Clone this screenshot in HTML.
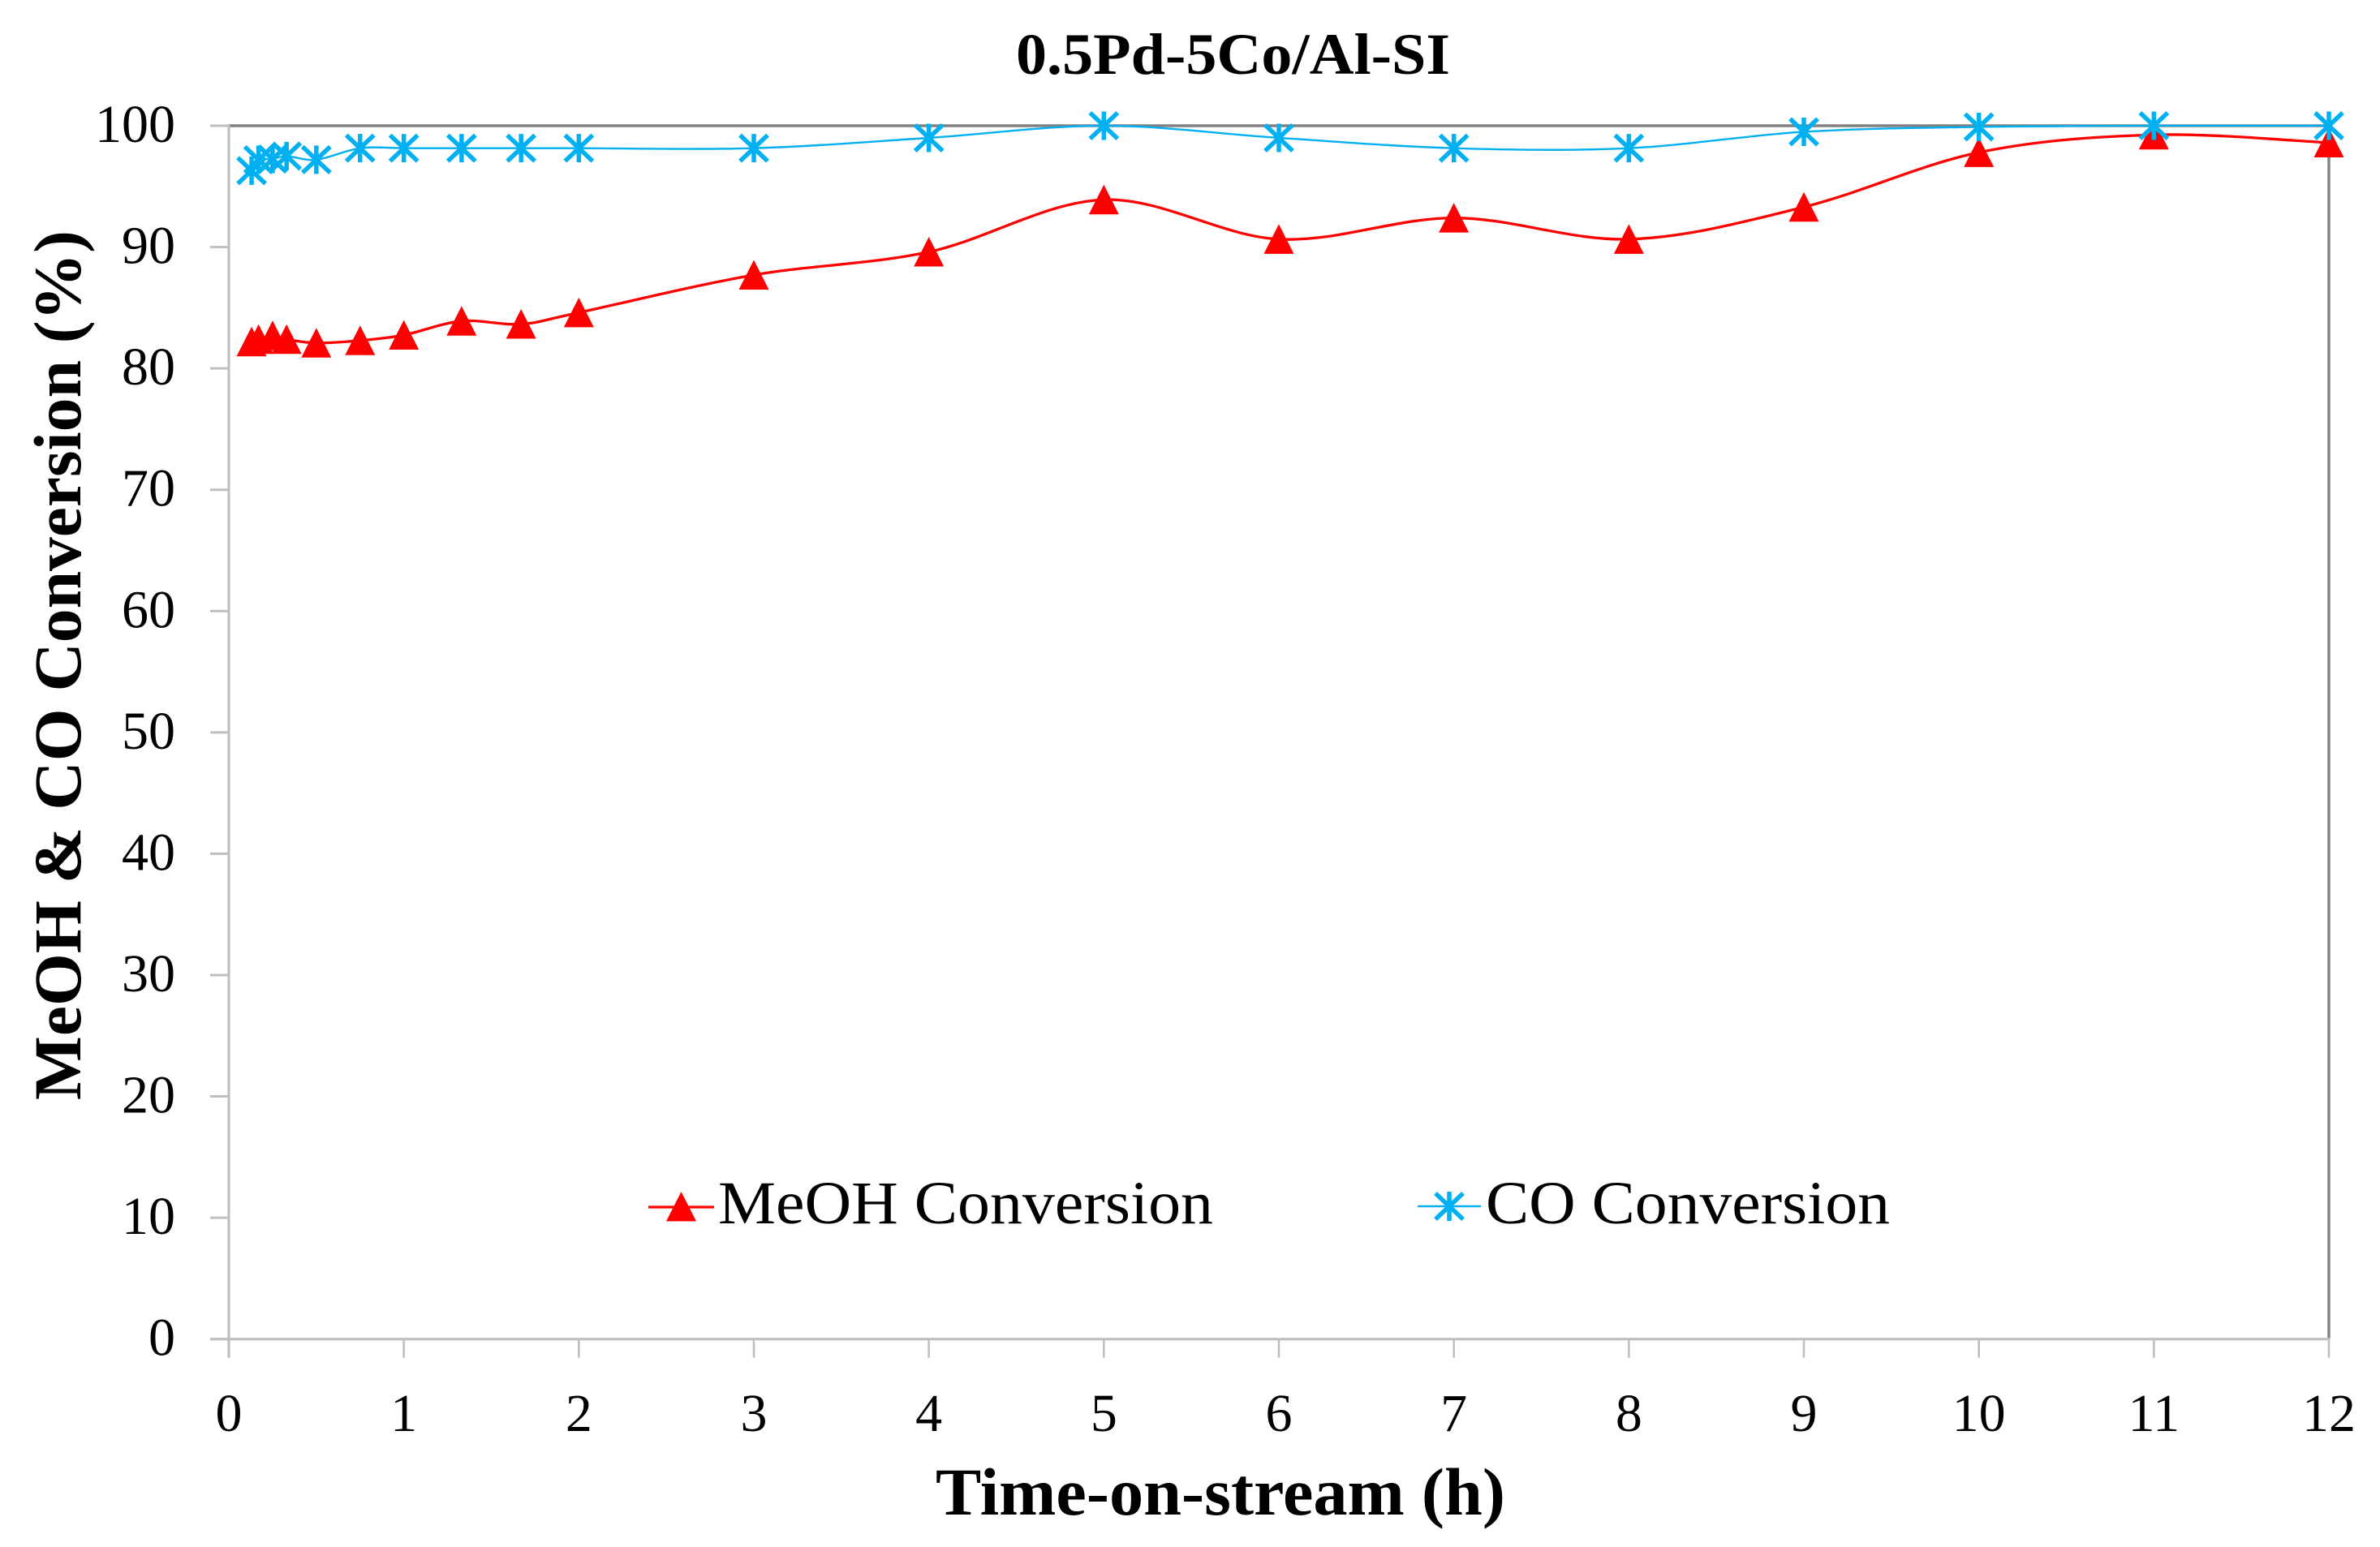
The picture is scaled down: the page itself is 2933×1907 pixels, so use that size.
<!DOCTYPE html>
<html lang="en">
<head>
<meta charset="utf-8">
<title>0.5Pd-5Co/Al-SI</title>
<style>
html,body{margin:0;padding:0;background:#fff;width:2933px;height:1907px;overflow:hidden}
svg{display:block}
text{font-family:"Liberation Serif",serif;fill:#000}
</style>
</head>
<body>
<svg id="chart" width="2933" height="1907" viewBox="0 0 2933 1907" xmlns="http://www.w3.org/2000/svg">
  <rect width="2933" height="1907" fill="#fff"/>
  <text x="1252" y="91" font-size="72" font-weight="bold" textLength="535" lengthAdjust="spacingAndGlyphs">0.5Pd-5Co/Al-SI</text>
  <text transform="translate(99,1356) rotate(-90)" font-size="83" font-weight="bold" textLength="1072" lengthAdjust="spacingAndGlyphs">MeOH &amp; CO Conversion (%)</text>
  <text x="1153" y="1867" font-size="83" font-weight="bold" textLength="702" lengthAdjust="spacingAndGlyphs">Time-on-stream (h)</text>
  <g id="axes"></g>
  <g id="series"></g>
  <g>
    <g>
      <line x1="799" y1="1488" x2="880" y2="1488" stroke="#ff0000" stroke-width="3.3"/>
      <polygon points="839.5,1469 858,1505.5 821,1505.5" fill="#ff0000"/>
      <text x="885" y="1508" font-size="75" textLength="610" lengthAdjust="spacingAndGlyphs">MeOH Conversion</text>
    </g>
    <g>
      <line x1="1747" y1="1487" x2="1825" y2="1487" stroke="#00b0f0" stroke-width="2.4"/>
      <path d="M1786 1469V1505M1769 1471L1803 1503M1803 1471L1769 1503" stroke="#00b0f0" stroke-width="5.5" fill="none"/>
      <text x="1831" y="1508" font-size="75" textLength="498" lengthAdjust="spacingAndGlyphs">CO Conversion</text>
    </g>
  </g>
</svg>
<script>
const timeHours = [0.13, 0.17, 0.25, 0.33, 0.5, 0.75, 1, 1.33, 1.67, 2, 3, 4, 5, 6, 7, 8, 9, 10, 11, 12];
const meohConversion = [82.2, 82.4, 82.7, 82.4, 82.1, 82.3, 82.75, 83.9, 83.65, 84.6, 87.7, 89.6, 93.9, 90.65, 92.4, 90.65, 93.3, 97.8, 99.25, 98.6];
const coConversion = [96.3, 97.2, 97.25, 97.5, 97.2, 98.15, 98.15, 98.15, 98.15, 98.15, 98.15, 99, 100, 99, 98.15, 98.15, 99.5, 99.9, 100, 100];
const xTickLabels = ['0','1','2','3','4','5','6','7','8','9','10','11','12'];
const yTickLabels = ['0','10','20','30','40','50','60','70','80','90','100'];

const NS = 'http://www.w3.org/2000/svg';
const plotLeft = 282, plotRight = 2870, plotTop = 155, plotBottom = 1650.7;
const xMax = 12, yMax = 100;
function xScale(v) { return plotLeft + (v / xMax) * (plotRight - plotLeft); }
function yScale(v) { return plotBottom - (v / yMax) * (plotBottom - plotTop); }
function make(tag, parent) {
  const el = document.createElementNS(NS, tag);
  parent.appendChild(el);
  return el;
}
function lineEl(parent, x1, y1, x2, y2, color, width) {
  const l = make('line', parent);
  l.setAttribute('x1', x1); l.setAttribute('y1', y1);
  l.setAttribute('x2', x2); l.setAttribute('y2', y2);
  l.setAttribute('stroke', color); l.setAttribute('stroke-width', width);
  return l;
}
function smoothPath(xs, ys) {
  const p = xs.map((x, i) => [xScale(x), yScale(ys[i])]);
  let d = 'M' + p[0][0].toFixed(2) + ' ' + p[0][1].toFixed(2);
  for (let i = 0; i < p.length - 1; i++) {
    const a = p[Math.max(i - 1, 0)], b = p[i], c = p[i + 1], e = p[Math.min(i + 2, p.length - 1)];
    const c1x = b[0] + (c[0] - a[0]) / 6, c1y = b[1] + (c[1] - a[1]) / 6;
    const c2x = c[0] - (e[0] - b[0]) / 6, c2y = c[1] - (e[1] - b[1]) / 6;
    d += 'C' + c1x.toFixed(2) + ' ' + c1y.toFixed(2) + ' ' + c2x.toFixed(2) + ' ' + c2y.toFixed(2) + ' ' + c[0].toFixed(2) + ' ' + c[1].toFixed(2);
  }
  return d;
}

const axes = document.getElementById('axes');
const seriesGroup = document.getElementById('series');

const topBorder = lineEl(axes, plotLeft, plotTop, plotRight + 1.5, plotTop, '#808080', 3.4);


const rightBorder = lineEl(axes, plotRight, plotTop, plotRight, plotBottom, '#808080', 3.4);


const yAxisLine = lineEl(axes, plotLeft, plotTop - 1, plotLeft, plotBottom + 23, '#bfbfbf', 3.2);


const xAxisLine = lineEl(axes, plotLeft - 23, plotBottom, plotRight + 1.5, plotBottom, '#bfbfbf', 3.2);



xTickLabels.forEach(function (label) {
  const x = xScale(Number(label));
  const tick = lineEl(axes, x, plotBottom, x, plotBottom + 23, '#bfbfbf', 2.6);
  
  
  const t = make('text', axes);
  
  
  t.setAttribute('x', x);
  t.setAttribute('y', 1764);
  t.setAttribute('text-anchor', 'middle');
  t.setAttribute('font-size', '66');
  t.textContent = label;
});
yTickLabels.forEach(function (label) {
  const y = yScale(Number(label));
  const tick = lineEl(axes, plotLeft - 23, y, plotLeft, y, '#bfbfbf', 3);
  
  
  const t = make('text', axes);
  
  
  t.setAttribute('x', 216);
  t.setAttribute('y', y + 20);
  t.setAttribute('text-anchor', 'end');
  t.setAttribute('font-size', '66');
  t.textContent = label;
});

const meohLine = make('path', seriesGroup);


meohLine.setAttribute('d', smoothPath(timeHours, meohConversion));
meohLine.setAttribute('fill', 'none');
meohLine.setAttribute('stroke', '#ff0000');
meohLine.setAttribute('stroke-width', '3.3');

timeHours.forEach(function (t, i) {
  const cx = xScale(t), cy = yScale(meohConversion[i]);
  const m = make('polygon', seriesGroup);
  
  
  m.setAttribute('points', cx + ',' + (cy - 18.5) + ' ' + (cx + 18.5) + ',' + (cy + 18) + ' ' + (cx - 18.5) + ',' + (cy + 18));
  m.setAttribute('fill', '#ff0000');
});

const coLine = make('path', seriesGroup);


coLine.setAttribute('d', smoothPath(timeHours, coConversion));
coLine.setAttribute('fill', 'none');
coLine.setAttribute('stroke', '#00b0f0');
coLine.setAttribute('stroke-width', '2.4');

timeHours.forEach(function (t, i) {
  const cx = xScale(t), cy = yScale(coConversion[i]);
  const m = make('path', seriesGroup);
  
  
  m.setAttribute('d', 'M' + cx + ' ' + (cy - 17.5) + 'V' + (cy + 17.5) +
    'M' + (cx - 17) + ' ' + (cy - 16) + 'L' + (cx + 17) + ' ' + (cy + 16) +
    'M' + (cx + 17) + ' ' + (cy - 16) + 'L' + (cx - 17) + ' ' + (cy + 16));
  m.setAttribute('stroke', '#00b0f0');
  m.setAttribute('stroke-width', '5.5');
  m.setAttribute('fill', 'none');
});
</script>
</body>
</html>
